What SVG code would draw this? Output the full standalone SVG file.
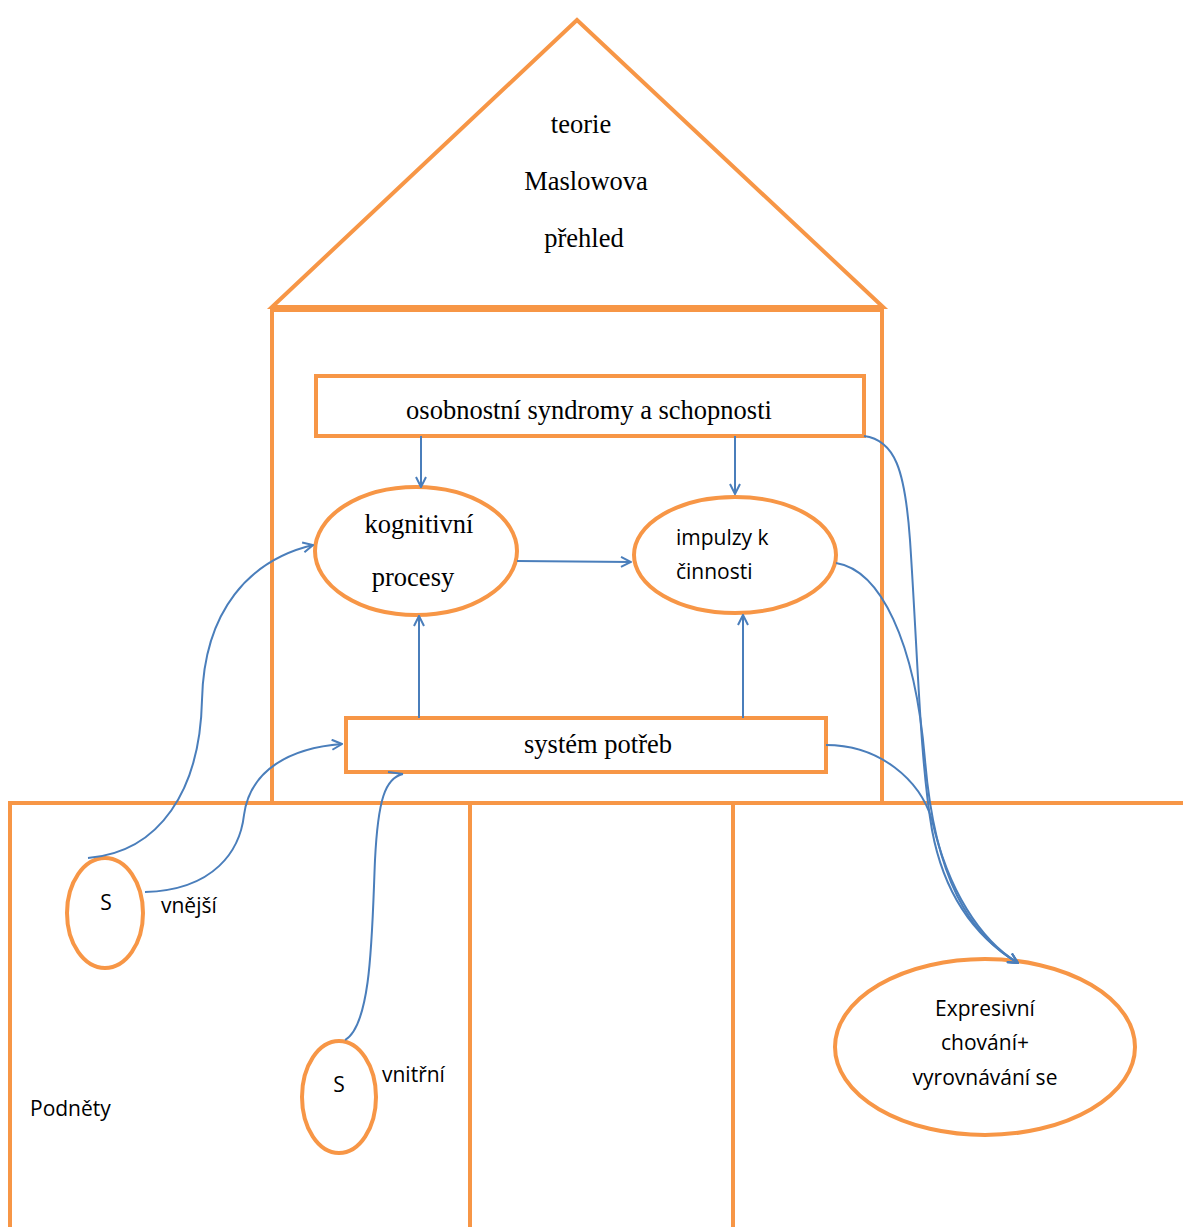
<svg xmlns="http://www.w3.org/2000/svg" width="1183" height="1227" viewBox="0 0 1183 1227">
<defs>
<style>
.o{fill:none;stroke:#F79646;stroke-width:4}
.c{fill:none;stroke:#4A7EBB;stroke-width:2}
.serif{font-family:"Liberation Serif","Times New Roman",serif;font-size:26.5px;fill:#000}
.sans{font-family:"Open Sans","Liberation Sans",sans-serif;font-size:21px;fill:#000}
</style>
<marker id="ah" viewBox="0 0 12 12" refX="11" refY="6" markerWidth="12" markerHeight="12" markerUnits="userSpaceOnUse" orient="auto">
<path d="M1,1 L11,6 L1,11" fill="none" stroke="#4A7EBB" stroke-width="2"/>
</marker>
</defs>
<rect width="1183" height="1227" fill="#fff"/>
<g id="house">
<polygon class="o" points="577,20 272,307 883,307"/>
<rect class="o" x="272" y="310" width="610" height="493"/>
<text class="serif" x="581" y="133" text-anchor="middle">teorie</text>
<text class="serif" x="586" y="190" text-anchor="middle">Maslowova</text>
<text class="serif" x="584" y="247" text-anchor="middle">přehled</text>
</g>
<g id="ground">
<path class="o" d="M10,1227 V803 H1183 M470,803 V1227 M733,803 V1227"/>
<text class="sans" x="30" y="1116">Podněty</text>
</g>
<g id="syndromy">
<rect class="o" x="316" y="376" width="548" height="60"/>
<text class="serif" x="589" y="419" text-anchor="middle">osobnostní syndromy a schopnosti</text>
</g>
<g id="kognitivni">
<ellipse class="o" cx="416" cy="551" rx="101" ry="64"/>
<text class="serif" x="419" y="533" text-anchor="middle">kognitivní</text>
<text class="serif" x="413" y="586" text-anchor="middle">procesy</text>
</g>
<g id="impulzy">
<ellipse class="o" cx="735" cy="555" rx="101" ry="58"/>
<text class="sans" x="676" y="545">impulzy k</text>
<text class="sans" x="676" y="579">činnosti</text>
</g>
<g id="potreb">
<rect class="o" x="346" y="718" width="480" height="54"/>
<text class="serif" x="598" y="753" text-anchor="middle">systém potřeb</text>
</g>
<g id="s-vnejsi">
<ellipse class="o" cx="105" cy="913" rx="38" ry="55"/>
<text class="sans" x="106" y="910" text-anchor="middle">S</text>
<text class="sans" x="161" y="913">vnější</text>
</g>
<g id="s-vnitrni">
<ellipse class="o" cx="339" cy="1097" rx="37" ry="56"/>
<text class="sans" x="339" y="1092" text-anchor="middle">S</text>
<text class="sans" x="382" y="1082">vnitřní</text>
</g>
<g id="expresivni">
<ellipse class="o" cx="985" cy="1047" rx="150" ry="88"/>
<text class="sans" x="985" y="1016" text-anchor="middle">Expresivní</text>
<text class="sans" x="985" y="1050" text-anchor="middle">chování+</text>
<text class="sans" x="985" y="1085" text-anchor="middle">vyrovnávání se</text>
</g>
<g id="connectors">
<path class="c" d="M421,436 V487" marker-end="url(#ah)"/>
<path class="c" d="M735,436 V494" marker-end="url(#ah)"/>
<path class="c" d="M517,561 L631,562" marker-end="url(#ah)"/>
<path class="c" d="M419,718 V616" marker-end="url(#ah)"/>
<path class="c" d="M743,718 V615" marker-end="url(#ah)"/>
<path class="c" d="M88,858 C160,852 200,790 202,700 C204,610 250,560 313,545" marker-end="url(#ah)"/>
<path class="c" d="M145,892 C215,890 240,850 244,815 C250,770 290,748 342,744" marker-end="url(#ah)"/>
<path class="c" d="M345,1040 C372,1025 372,930 375,860 C378,800 385,778 403,774 M388,772 L403,774"/>
<path class="c" d="M864,436 C895,440 905,470 910,540 C918,660 920,760 932,830 C945,900 980,940 1018,963" marker-end="url(#ah)"/>
<path class="c" d="M836,563 C880,570 915,640 925,760 C935,880 970,935 1018,963" marker-end="url(#ah)"/>
<path class="c" d="M826,745 C880,745 920,780 932,820 C948,890 980,940 1018,963" marker-end="url(#ah)"/>
</g>
</svg>
